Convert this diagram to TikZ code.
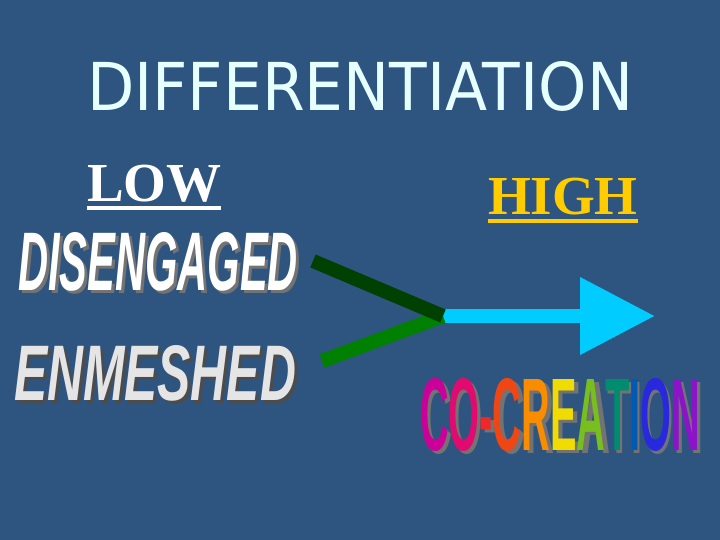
\documentclass[tikz,border=0pt]{standalone}
\usepackage{fontspec}
\setmainfont{Liberation Serif}
\setsansfont{DejaVu Sans}
\newfontfamily\artfont{Liberation Sans}
\usepackage{graphicx}
\usetikzlibrary{arrows.meta, positioning}

\definecolor{slidebg}{RGB}{46,84,128}
\definecolor{titlecol}{RGB}{230,255,255}
\definecolor{highcol}{RGB}{255,204,0}
\definecolor{arrowcyan}{RGB}{0,204,255}
\definecolor{darkline}{RGB}{0,64,0}
\definecolor{greenline}{RGB}{0,128,0}

% fit a word into a box of given width and height
\newcommand{\artword}[3]{\resizebox{#1}{#2}{#3}}
% word with a grey drop shadow
\newcommand{\shadowed}[2]{\rlap{\kern3pt\raisebox{-3pt}{\color{#1}#2}}#2}
% thick underline
\newcommand{\lined}[1]{\vtop{\hbox{#1}\kern4pt\hrule height 4pt}}

\begin{document}
\begin{tikzpicture}[
		x=1pt, y=-1pt,
		txt/.style={inner sep=0pt, outer sep=0pt, anchor=north west},
		level/.style={txt, font=\fontsize{55}{55}\selectfont\bfseries},
		art/.style={txt, font=\artfont\bfseries},
		link/.style={line width=14pt, line cap=butt},
		arrow/.style={line width=14pt, arrowcyan, -{Triangle[length=75pt, width=74pt]}}
		]
		
		\fill[slidebg] (0,0) rectangle (720,540);
		\useasboundingbox (0,0) rectangle (720,540);
		
		% Title and levels
		\node[txt, font=\sffamily, text=titlecol] (title) at (87,62) {\artword{546pt}{49pt}{DIFFERENTIATION}};
		\node[level, text=white] (low) at (87,165) {\lined{LOW}};
		\node[level, text=highcol] (high) at (488,178) {\lined{HIGH}};
		
		% Word art
		\node[art, text=white] (dis) at (18,232) {\shadowed{black!55}{\artword{280pt}{58pt}{\itshape DISENGAGED}}};
		\node[art, text=black!10] (enm) at (14,345) {\shadowed{black!70}{\artword{282pt}{55pt}{\itshape ENMESHED}}};
		\node[art] (cocreation) at (420,378) {\rlap{\kern3pt\raisebox{-3pt}{\color{black!55}\artword{280pt}{72pt}{CO-CREATION}}}%
			\artword{280pt}{72pt}{%
			\textcolor[RGB]{204,0,153}{C}\textcolor[RGB]{225,10,110}{O}\textcolor[RGB]{240,40,40}{-}%
			\textcolor[RGB]{240,70,20}{C}\textcolor[RGB]{250,140,0}{R}\textcolor[RGB]{240,220,0}{E}%
			\textcolor[RGB]{120,190,30}{A}\textcolor[RGB]{0,140,110}{T}\textcolor[RGB]{0,90,180}{I}%
			\textcolor[RGB]{40,40,220}{O}\textcolor[RGB]{140,20,200}{N}}};
		
		% Lines
		\coordinate (join) at (443,316);
		\coordinate (tip) at (655,316);
		\coordinate (disend) at (313,261);
		\coordinate (enmend) at (322,361);
		\draw[arrow] (join) -- (tip);
		\draw[link, greenline] (enmend) -- (join);
		\draw[link, darkline] (disend) -- (join);
	\end{tikzpicture}
\end{document}
